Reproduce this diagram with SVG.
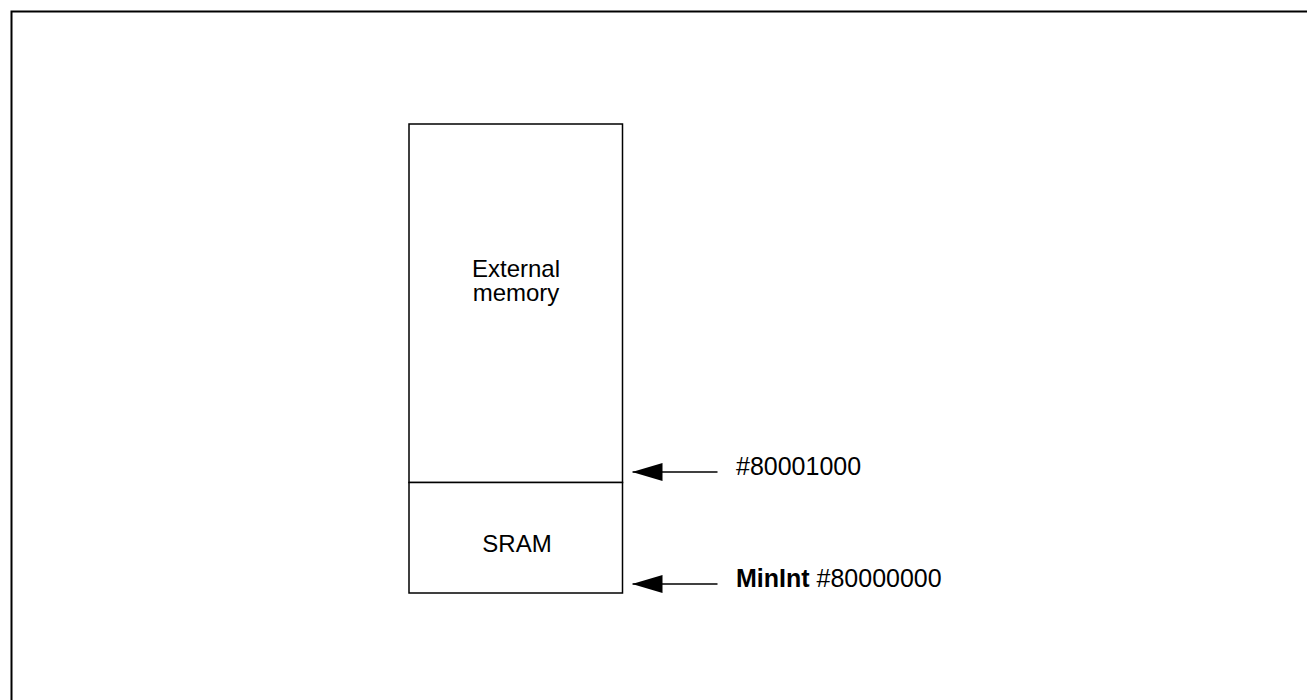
<svg xmlns="http://www.w3.org/2000/svg" width="1307" height="700" viewBox="0 0 1307 700">
  <style>
    .t { font-family: "Liberation Sans", Arial, sans-serif; font-size: 24px; fill: #000; }
    .l { font-size: 25px; }
    .b { font-weight: bold; }
    .box { fill: #fff; stroke: #000; stroke-width: 1.5; }
    .conn { stroke: #000; stroke-width: 1.5; fill: none; }
  </style>
  <defs>
    <marker id="ah" markerUnits="userSpaceOnUse" markerWidth="30" markerHeight="18" refX="30" refY="9" orient="auto" viewBox="0 0 30 18">
      <polygon points="0,0 30,9 0,18" fill="#000"/>
    </marker>
  </defs>
  <rect width="1307" height="700" fill="#fff"/>
  <g id="frame">
    <path d="M11.5,700 V11.5 H1307" fill="none" stroke="#000" stroke-width="2"/>
  </g>
  <g id="external-memory">
    <rect class="box" x="409" y="124" width="213.5" height="358.5"/>
    <text class="t" x="516" y="277" text-anchor="middle">External</text>
    <text class="t" x="516" y="301" text-anchor="middle">memory</text>
  </g>
  <g id="sram">
    <rect class="box" x="409" y="482.5" width="213.5" height="110.5"/>
    <text class="t" x="517" y="551.5" text-anchor="middle">SRAM</text>
  </g>
  <g id="connectors">
    <line class="conn" x1="717.5" y1="472" x2="632.5" y2="472" marker-end="url(#ah)"/>
    <line class="conn" x1="717.5" y1="584" x2="632.5" y2="584" marker-end="url(#ah)"/>
  </g>
  <g id="label-80001000">
    <text class="t l" x="736" y="475">#80001000</text>
  </g>
  <g id="label-minint">
    <text class="t l" x="736" y="587"><tspan class="b">MinInt</tspan> #80000000</text>
  </g>
</svg>
